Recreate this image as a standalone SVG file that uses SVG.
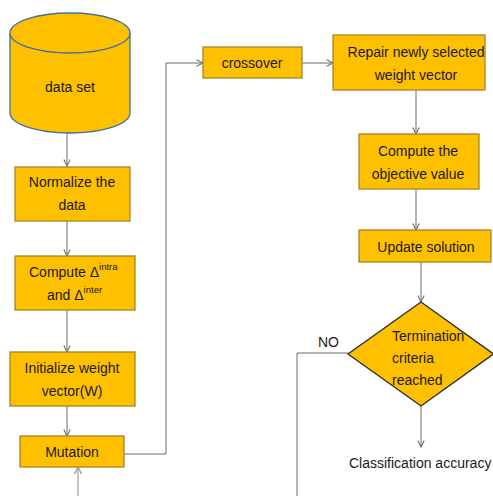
<svg xmlns="http://www.w3.org/2000/svg" width="493" height="496" viewBox="0 0 493 496">
<defs>
<style>
.box{fill:#FFC000;stroke:#A5862A;stroke-width:1.3}
.t{font-family:"Liberation Sans",Arial,sans-serif;font-size:14px;fill:#1a1a1a}
.c{text-anchor:middle}
.sup{font-size:9.5px}
.ln{fill:none;stroke:#6b6b6b;stroke-width:1}
.ln2{fill:none;stroke:#9a9a9a;stroke-width:1.2}
</style>
<marker id="ah" viewBox="0 0 10 10" refX="9" refY="5" markerWidth="8" markerHeight="8" markerUnits="userSpaceOnUse" orient="auto">
<polyline points="1,1 9,5 1,9" fill="none" stroke="#6b6b6b" stroke-width="1.3"/>
</marker>
<marker id="ah2" viewBox="0 0 10 10" refX="9" refY="5" markerWidth="9" markerHeight="9" markerUnits="userSpaceOnUse" orient="auto">
<polyline points="1,1 9,5 1,9" fill="none" stroke="#9a9a9a" stroke-width="1.4"/>
</marker>
</defs>
<rect width="493" height="496" fill="#ffffff"/>
<g id="connectors">
<line class="ln" x1="67" y1="133" x2="67" y2="166" marker-end="url(#ah)"/>
<line class="ln" x1="67" y1="221" x2="67" y2="256" marker-end="url(#ah)"/>
<line class="ln" x1="67" y1="310" x2="67" y2="352" marker-end="url(#ah)"/>
<line class="ln" x1="67" y1="406" x2="67" y2="436" marker-end="url(#ah)"/>
<polyline class="ln" points="124,454 166,454 166,63 203,63" marker-end="url(#ah)"/>
<line class="ln" x1="302" y1="63" x2="333" y2="63" marker-end="url(#ah)"/>
<line class="ln" x1="416" y1="90" x2="416" y2="134" marker-end="url(#ah)"/>
<line class="ln" x1="416" y1="189" x2="416" y2="230" marker-end="url(#ah)"/>
<line class="ln" x1="421" y1="262" x2="421" y2="302" marker-end="url(#ah)"/>
<line class="ln" x1="421" y1="406" x2="421" y2="447" marker-end="url(#ah)"/>
<polyline class="ln" points="348,353 297,353 297,496"/>
<line class="ln2" x1="78" y1="496" x2="78" y2="467" marker-end="url(#ah2)"/>
</g>
<g id="dataset">
<path d="M10,33 L10,113 A60,20 0 0 0 130,113 L130,33" fill="#FFC000" stroke="#41719C" stroke-width="1.3"/>
<ellipse cx="70" cy="33" rx="60" ry="20" fill="#FFC000" stroke="#41719C" stroke-width="1.3"/>
<text class="t c" x="70" y="92">data set</text>
</g>
<g id="normalize">
<rect class="box" x="15" y="167" width="115" height="54"/>
<text class="t c" x="72" y="187">Normalize the</text>
<text class="t c" x="72" y="210">data</text>
</g>
<g id="compute-delta">
<rect class="box" x="15" y="256" width="120" height="54"/>
<text class="t" x="29" y="277">Compute Δ<tspan class="sup" dy="-7">intra</tspan></text>
<text class="t" x="47" y="300">and Δ<tspan class="sup" dy="-7">inter</tspan></text>
</g>
<g id="initialize">
<rect class="box" x="10" y="352" width="125" height="54"/>
<text class="t c" x="72" y="373">Initialize weight</text>
<text class="t c" x="72" y="396">vector(W)</text>
</g>
<g id="mutation">
<rect class="box" x="20" y="436" width="104" height="31"/>
<text class="t c" x="72" y="457">Mutation</text>
</g>
<g id="crossover">
<rect class="box" x="203" y="47" width="99" height="31"/>
<text class="t c" x="252" y="68">crossover</text>
</g>
<g id="repair">
<rect class="box" x="333" y="35" width="152" height="55"/>
<text class="t c" x="416" y="57">Repair newly selected</text>
<text class="t c" x="416" y="80">weight vector</text>
</g>
<g id="objective">
<rect class="box" x="359" y="134" width="120" height="55"/>
<text class="t c" x="418" y="156">Compute the</text>
<text class="t c" x="418" y="179">objective value</text>
</g>
<g id="update">
<rect class="box" x="359" y="230" width="132" height="32"/>
<text class="t c" x="426" y="252">Update solution</text>
</g>
<g id="termination">
<polygon points="421,302 493.5,354 421,406 348,354" fill="#FFC000" stroke="#2b2b2b" stroke-width="1.3"/>
<text class="t" x="392" y="341">Termination</text>
<text class="t" x="392" y="363">criteria</text>
<text class="t" x="392" y="385">reached</text>
</g>
<g id="no-label">
<text class="t" x="318" y="347">NO</text>
</g>
<g id="result">
<text class="t" x="349" y="468">Classification accuracy</text>
</g>
</svg>
